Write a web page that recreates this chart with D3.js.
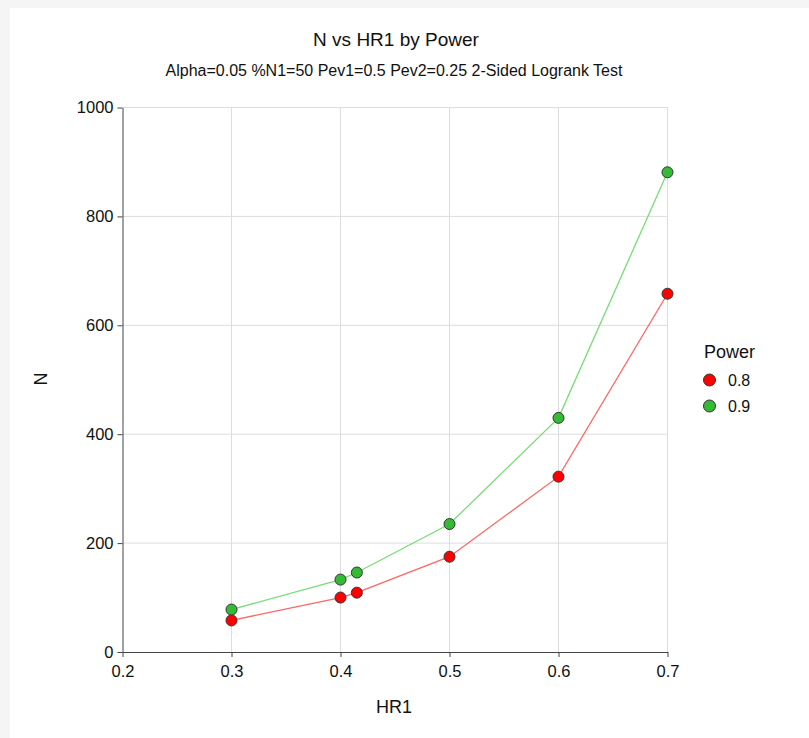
<!DOCTYPE html>
<html>
<head>
<meta charset="utf-8">
<script src="https://cdn.jsdelivr.net/npm/d3@7"></script>
<style>
  body { margin: 0; background: #f5f5f5; }
  #chart { position: absolute; left: 10px; top: 8px; }
  text { font-family: Arial, "Liberation Sans", sans-serif; fill: #111; }
</style>
</head>
<body>
<div id="chart"></div>
<script>
// data
const hr1 = [0.3, 0.4, 0.415, 0.5, 0.6, 0.7];
const powerLevels = ["0.8", "0.9"];
const nPower08 = [58, 100, 109, 175, 322, 658];
const nPower09 = [78, 133, 146, 235, 430, 881];
const seriesColors = ["#ff0000", "#33bb33"];
const lineColors = ["#ff6666", "#77dd77"];
const xTicks = [0.2, 0.3, 0.4, 0.5, 0.6, 0.7];
const yTicks = [0, 200, 400, 600, 800, 1000];

const series = [nPower08, nPower09].map((vals, i) => ({
  power: powerLevels[i],
  points: hr1.map((h, j) => ({ hr: h, n: vals[j] }))
}));

// page is offset by the gray frame
const W = 799, H = 730;
const margin = { top: 99.5, left: 112.5, right: 141.5, bottom: 86 };
const width = W - margin.left - margin.right;
const height = H - margin.top - margin.bottom;

const svg = d3.select("#chart").append("svg")
  .attr("width", W).attr("height", H)
  .style("background", "#fff");

const g = svg.append("g")
  .attr("transform", `translate(${margin.left},${margin.top})`);

const x = d3.scaleLinear().domain([0.2, 0.7]).range([0, width]);
const y = d3.scaleLinear().domain([0, 1000]).range([height, 0]);

// grid
g.append("g").selectAll("line.vg")
  .data(xTicks.slice(1))
  .enter().append("line")
    .attr("x1", d => x(d)).attr("x2", d => x(d))
    .attr("y1", 0).attr("y2", height)
    .attr("stroke", "#dddddd").attr("stroke-width", 1);

g.append("g").selectAll("line.hg")
  .data(yTicks.slice(1))
  .enter().append("line")
    .attr("x1", 0).attr("x2", width)
    .attr("y1", d => y(d)).attr("y2", d => y(d))
    .attr("stroke", "#dddddd").attr("stroke-width", 1);

// axes
const xAxis = g.append("g")
  .attr("transform", `translate(0,${height})`)
  .call(d3.axisBottom(x).tickValues(xTicks).tickFormat(d3.format(".1f")).tickSize(5).tickSizeOuter(0));
const yAxis = g.append("g")
  .call(d3.axisLeft(y).tickValues(yTicks).tickFormat(d3.format("d")).tickSize(5).tickSizeOuter(0));

[xAxis, yAxis].forEach(a => {
  a.select(".domain").attr("stroke", "#444");
  a.selectAll(".tick line").attr("stroke", "#444");
  a.selectAll(".tick text")
    .style("font-family", "Arial, 'Liberation Sans', sans-serif")
    .style("font-size", "16.5px")
    .attr("fill", "#111");
});
xAxis.selectAll(".tick text").attr("dy", "1.0em");
yAxis.selectAll(".tick text").attr("dx", "-1px");

// lines
const line = d3.line().x(d => x(d.hr)).y(d => y(d.n));
g.selectAll("path.series")
  .data(series)
  .enter().append("path")
    .attr("class", "series")
    .attr("d", d => line(d.points))
    .attr("fill", "none")
    .attr("stroke", (d, i) => lineColors[i])
    .attr("stroke-width", 1.3);

// markers
series.forEach((s, i) => {
  g.selectAll(`circle.s${i}`)
    .data(s.points)
    .enter().append("circle")
      .attr("class", `s${i}`)
      .attr("cx", d => x(d.hr))
      .attr("cy", d => y(d.n))
      .attr("r", 5.5)
      .attr("fill", seriesColors[i])
      .attr("stroke", "#333")
      .attr("stroke-width", 1);
});

// titles
svg.append("text")
  .attr("x", 386).attr("y", 38)
  .attr("text-anchor", "middle")
  .style("font-size", "19px")
  .text("N vs HR1 by Power");

svg.append("text")
  .attr("x", 384).attr("y", 68)
  .attr("text-anchor", "middle")
  .style("font-size", "16px")
  .text("Alpha=0.05 %N1=50 Pev1=0.5 Pev2=0.25 2-Sided Logrank Test");

// axis labels
svg.append("text")
  .attr("x", 384).attr("y", 705)
  .attr("text-anchor", "middle")
  .style("font-size", "18px")
  .text("HR1");

svg.append("text")
  .attr("transform", "translate(37,371) rotate(-90)")
  .attr("text-anchor", "middle")
  .style("font-size", "18px")
  .text("N");

// legend
const legend = svg.append("g").attr("transform", "translate(694,0)");
legend.append("text")
  .attr("x", 0).attr("y", 350)
  .style("font-size", "18px")
  .text("Power");

powerLevels.forEach((p, i) => {
  legend.append("circle")
    .attr("cx", 5.5).attr("cy", 372 + i * 26)
    .attr("r", 6)
    .attr("fill", seriesColors[i])
    .attr("stroke", "#333");
  legend.append("text")
    .attr("x", 24).attr("y", 378 + i * 26)
    .style("font-size", "16px")
    .text(p);
});
</script>
</body>
</html>
